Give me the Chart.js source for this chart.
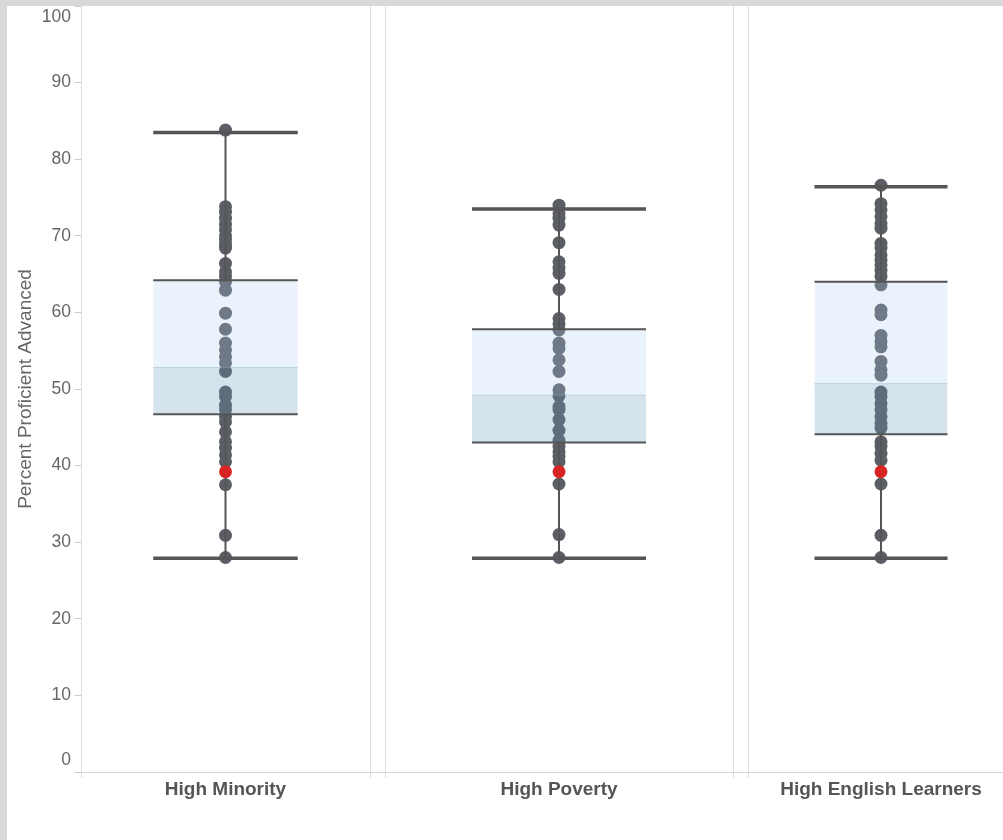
<!DOCTYPE html>
<html>
<head>
<meta charset="utf-8">
<title>Percent Proficient Advanced</title>
<script src="https://cdn.jsdelivr.net/npm/chart.js@4.4.1/dist/chart.umd.min.js"></script>
<style>
  html, body { margin: 0; padding: 0; background: #d9d9d9; overflow: hidden; }
  #chart { position: absolute; left: 7px; top: 6px; background: #fff; }
</style>
</head>
<body>
<canvas id="chart" width="1010" height="834"></canvas>
<script>
// values
const groups = ["High Minority", "High Poverty", "High English Learners"];

const highMinority = [83.8, 73.8, 73.1, 72.3, 71.5, 70.8, 70.0, 69.5, 68.9, 68.4, 66.4, 65.3,
  64.7, 64.0, 62.9, 59.9, 57.8, 56.0, 55.1, 54.2, 53.4, 52.3, 49.6, 49.0, 47.9, 47.3, 46.4,
  45.7, 44.4, 43.1, 42.3, 41.4, 40.5, 37.5, 30.9, 28.0];
const highPoverty = [74.0, 72.9, 72.3, 71.4, 69.1, 66.6, 65.8, 65.1, 63.0, 59.2, 58.5, 57.7,
  56.0, 55.3, 53.8, 52.3, 49.9, 49.1, 47.7, 47.3, 46.0, 44.6, 43.3, 42.5, 41.8, 41.2, 40.5,
  37.6, 31.0, 28.0];
const highEnglishLearners = [76.6, 74.2, 73.4, 72.5, 71.6, 71.0, 69.0, 68.4, 67.5, 66.8, 66.2,
  65.5, 64.7, 63.6, 60.3, 59.7, 57.0, 56.2, 55.5, 53.6, 52.5, 51.8, 49.6, 49.0, 48.1, 47.3,
  46.4, 45.5, 44.9, 43.1, 42.5, 41.6, 40.7, 37.6, 30.9, 28.0];

// the highlighted (red) school in each group
const schoolValue = [39.2, 39.2, 39.2];

// box plot summary per group
const whiskerLow = [27.9, 27.9, 27.9];
const quartile1 = [46.7, 43.0, 44.1];
const medians = [52.8, 49.2, 50.7];
const quartile3 = [64.2, 57.8, 64.0];
const whiskerHigh = [83.5, 73.5, 76.4];

// facet panels along the x axis (left edge, right edge)
const panels = [[0, 289], [304, 652], [667, 933]];
const centers = panels.map(p => (p[0] + p[1]) / 2);
const edges = panels.flat();

const series = [highMinority, highPoverty, highEnglishLearners];
const DARK = "#555";
const datasets = [];

function segment(x0, y0, x1, y1, width, color, order) {
  datasets.push({
    data: [{ x: x0, y: y0 }, { x: x1, y: y1 }],
    borderColor: color,
    borderWidth: width,
    pointRadius: 0,
    fill: false,
    order: order
  });
  return datasets.length - 1;
}

function band(x0, x1, y, target, color) {
  datasets.push({
    data: [{ x: x0, y: y }, { x: x1, y: y }],
    borderColor: "transparent",
    borderWidth: 1,
    pointRadius: 0,
    backgroundColor: color,
    fill: target == null ? false : { target: target },
    order: 3
  });
  return datasets.length - 1;
}

panels.forEach((p, i) => {
  const c = centers[i];
  const half = (p[1] - p[0]) / 4;
  const x0 = c - half, x1 = c + half;

  // whiskers
  segment(c, whiskerLow[i], c, quartile1[i], 2, DARK, 4);
  segment(c, quartile3[i], c, whiskerHigh[i], 2, DARK, 4);

  // box, lower and upper halves
  const base = band(x0, x1, quartile1[i], null, "transparent");
  const mid = band(x0, x1, medians[i], base, "rgba(100,150,190,0.27)");
  band(x0, x1, quartile3[i], mid, "rgba(170,205,240,0.25)");

  // box edges and caps
  segment(x0, quartile1[i], x1, quartile1[i], 2, DARK, 1);
  segment(x0, quartile3[i], x1, quartile3[i], 2, DARK, 1);
  segment(x0, medians[i], x1, medians[i], 1, "rgba(140,175,200,0.45)", 1);
  segment(x0, whiskerLow[i], x1, whiskerLow[i], 3.5, DARK, 1);
  segment(x0, whiskerHigh[i], x1, whiskerHigh[i], 3.5, DARK, 1);
});

// all schools
datasets.push({
  data: series.flatMap((vals, i) => vals.map(v => ({ x: centers[i], y: v }))),
  showLine: false,
  pointRadius: 6.5,
  pointBackgroundColor: "#5b5e65",
  pointBorderColor: "transparent",
  pointBorderWidth: 0,
  order: 5
});

// highlighted school
datasets.push({
  data: schoolValue.map((v, i) => ({ x: centers[i], y: v })),
  showLine: false,
  pointRadius: 6.5,
  pointBackgroundColor: "#d92424",
  pointBorderColor: "transparent",
  pointBorderWidth: 0,
  order: 2
});

Chart.defaults.font.family = "'Liberation Sans', Arial, sans-serif";

new Chart(document.getElementById("chart"), {
  type: "line",
  data: { datasets: datasets },
  options: {
    responsive: false,
    animation: false,
    events: [],
    layout: { autoPadding: false, padding: { left: 0, right: 3, top: 0, bottom: 0 } },
    plugins: { legend: { display: false }, tooltip: { enabled: false } },
    scales: {
      x: {
        type: "linear",
        min: 0,
        max: panels[2][1],
        afterBuildTicks: s => { s.ticks = edges.concat(centers).sort((a, b) => a - b).map(v => ({ value: v })); },
        afterFit: s => { s.height = 68; s.paddingLeft = 0; s.paddingRight = 0; },
        grid: {
          color: ctx => (ctx.tick && edges.includes(ctx.tick.value)) ? "#ddd" : "transparent",
          tickLength: 6
        },
        border: { color: "#d6d6d6" },
        ticks: {
          autoSkip: false,
          maxRotation: 0,
          padding: 0,
          color: "#555",
          font: { size: 19, weight: "bold" },
          callback: v => { const i = centers.indexOf(v); return i < 0 ? "" : groups[i]; }
        }
      },
      y: {
        min: 0,
        max: 100,
        afterFit: s => { s.width = 74; s.paddingTop = 0; s.paddingBottom = 0; },
        grid: { drawOnChartArea: false, color: "#ccc", tickLength: 6 },
        border: { display: false },
        ticks: {
          stepSize: 10,
          padding: 4,
          color: "#666",
          font: { size: 17.5, lineHeight: 1.3 },
          // keep the end labels inside the panel, like the original
          callback: v => v === 100 ? ["", "100"] : v === 0 ? ["0", ""] : String(v)
        },
        title: {
          display: true,
          text: "Percent Proficient Advanced",
          color: "#666",
          font: { size: 19 },
          padding: { top: 7, bottom: 0 }
        }
      }
    }
  }
});
</script>
</body>
</html>
